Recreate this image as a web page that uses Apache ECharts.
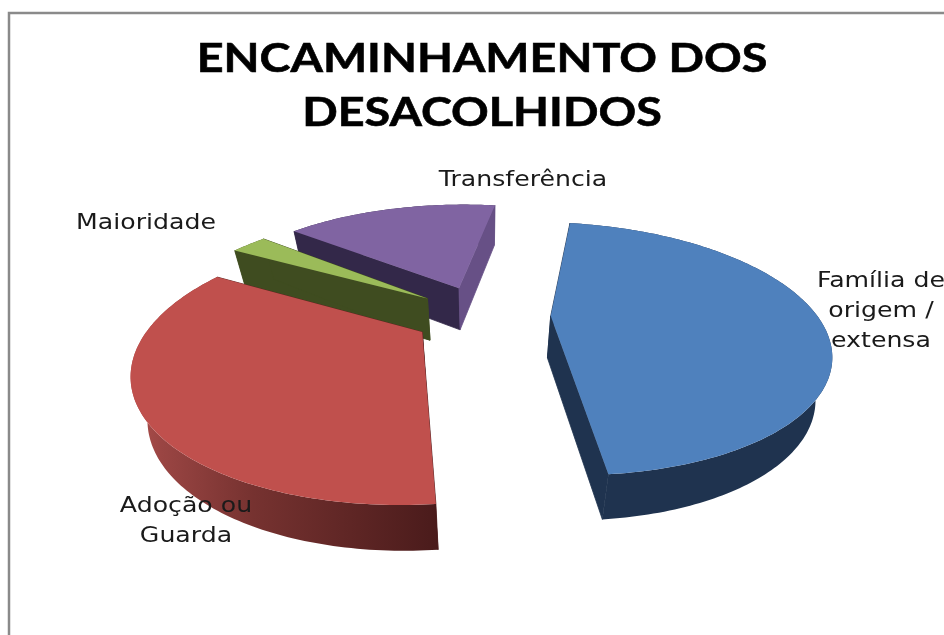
<!DOCTYPE html>
<html>
<head>
<meta charset="utf-8">
<style>html,body{margin:0;padding:0;background:#fff}#c{width:944px;height:635px}</style>
<script src="https://cdn.jsdelivr.net/npm/echarts@6/dist/echarts.min.js"></script>
</head>
<body>
<div id="c"></div>
<script>
var titleText = 'ENCAMINHAMENTO DOS\nDESACOLHIDOS';
var categories = ['Família de\norigem /\nextensa', 'Adoção ou\nGuarda', 'Maioridade', 'Transferência'];
var values = [46, 34.7, 2.7, 16.6];

var firstAngle = 9, explode = 0.258;
var cam = {x0: 482, y0: 315, fx: 266, fy: 117.5, persp: 0.2585};
var wall = {shrink: 0.952, drop: 42, dropSlope: 0.02};
var topColors = ['#4f81bd', '#c0504d', '#9bbb59', '#8064a2'];
var sideColors = ['#1f334f', '#7a3432', '#3f4c20', '#332849'];
var startWallColors = ['#1f334f', '#4a1b1b', '#3f4c20', '#332849'];
var endWallColors = ['#1f334f', '#5a2220', '#3f4c20', '#675086'];
var drawOrder = [40, 30, 20, 10];
var labelPos = [[881, 311], [186, 521], [146, 223], [523, 180]];
var labelFont = {size: 22, scaleX: 1.145, lineHeight: 30};

var total = values.reduce(function (a, b) { return a + b; }, 0);
function rad(d) { return d * Math.PI / 180; }
function project(X, Y) {
  var w = 1 + cam.persp * Y;
  return [cam.x0 + cam.fx * X / w, cam.y0 - cam.fy * Y / w];
}
function dropped(p) {
  return [cam.x0 + (p[0] - cam.x0) * wall.shrink, p[1] + wall.drop + (p[1] - cam.y0) * wall.dropSlope];
}
function sideFill(i) {
  if (i !== 1) return sideColors[i];
  return new echarts.graphic.LinearGradient(0, 0, 1, 0, [
    {offset: 0, color: '#b04f4c'}, {offset: 0.1, color: '#9a4543'},
    {offset: 0.4, color: '#763230'}, {offset: 1, color: '#4a1b1b'}
  ]);
}
function renderItem(params, api) {
  var i = api.value(0), before = 0;
  for (var k = 0; k < i; k++) before += values[k];
  var a0 = firstAngle + before / total * 360;
  var a1 = a0 + api.value(1) / total * 360;
  var mid = rad((a0 + a1) / 2);
  var ox = explode * Math.sin(mid), oy = explode * Math.cos(mid);
  var apex = project(ox, oy), arc = [];
  var steps = Math.max(6, Math.ceil(a1 - a0));
  for (var s = 0; s <= steps; s++) {
    var t = rad(a0 + (a1 - a0) * s / steps);
    arc.push(project(ox + Math.sin(t), oy + Math.cos(t)));
  }
  var low = arc.map(dropped), z = drawOrder[i];
  function poly(points, fill, zz, stroke) {
    return {type: 'polygon', z2: zz, shape: {points: points},
      style: {fill: fill, stroke: stroke || null, lineWidth: stroke ? 0.8 : 0}};
  }
  var first = arc[0], last = arc[arc.length - 1];
  return {type: 'group', children: [
    poly(arc.concat(low.slice().reverse()), sideFill(i), z),
    poly([apex, first, dropped(first), dropped(apex)], startWallColors[i], z + 1, startWallColors[i]),
    poly([apex, last, dropped(last), dropped(apex)], endWallColors[i], z + 2, endWallColors[i]),
    poly([apex].concat(arc), topColors[i], z + 3),
    {type: 'text', z2: 100, x: labelPos[i][0], y: labelPos[i][1], scaleX: labelFont.scaleX,
      style: {text: categories[i], fill: '#1a1a1a', fontFamily: 'DejaVu Sans',
        fontSize: labelFont.size, lineHeight: labelFont.lineHeight, align: 'center', verticalAlign: 'middle'}}
  ]};
}
var chart = echarts.init(document.getElementById('c'), null, {renderer: 'canvas'});
chart.setOption({
  animation: false,
  backgroundColor: '#fff',
  graphic: [
    {type: 'polyline', silent: true,
      shape: {points: [[9, 640], [9, 13], [950, 13]]},
      style: {stroke: '#8a8a8a', lineWidth: 2.5, fill: null}},
    {type: 'text', silent: true, x: 482, y: 86, scaleX: 1.168,
      style: {text: titleText, fill: '#000', stroke: '#000', lineWidth: 0.6, fontFamily: 'Lato', fontWeight: 'bold', fontSize: 40,
        lineHeight: 54, align: 'center', verticalAlign: 'middle'}}
  ],
  series: [{type: 'custom', coordinateSystem: 'none', renderItem: renderItem,
    data: values.map(function (v, i) { return [i, v]; })}]
});
</script>
</body>
</html>
